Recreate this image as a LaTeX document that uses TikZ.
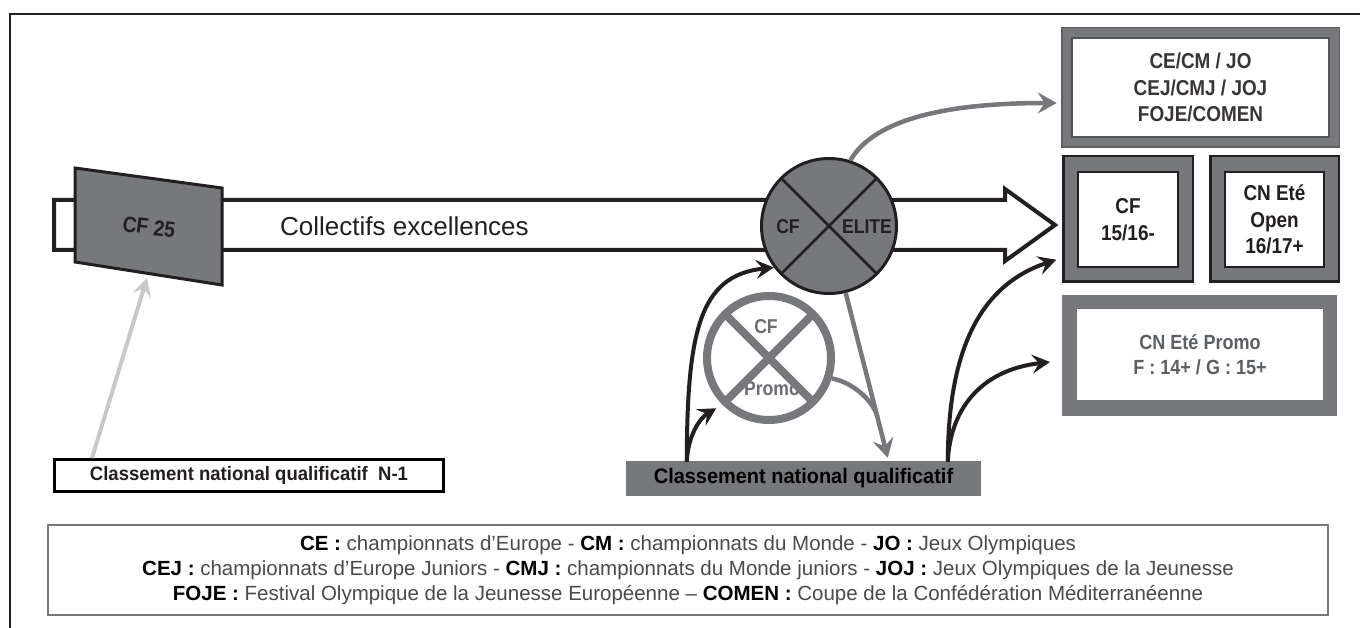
\documentclass[tikz,border=0pt]{standalone}
\usepackage{fontspec}
\setmainfont{Liberation Sans}
\newfontfamily\condf[FakeStretch=0.88]{Liberation Sans}
\newfontfamily\semif[FakeStretch=0.95]{Liberation Sans}
\usetikzlibrary{arrows.meta,calc}
\definecolor{mgray}{HTML}{76787B}
\definecolor{dk}{HTML}{231F20}
\definecolor{lgray}{HTML}{C8C8C8}
\definecolor{txtgray}{HTML}{4A4A4A}
\definecolor{promotxt}{HTML}{5C5F63}
\newcommand\legab[1]{{\color{black}\bfseries #1}}
\begin{document}
\begin{tikzpicture}[x=1pt,y=-1pt,
  outerbox/.style={fill=mgray, inner sep=0pt, outer sep=0pt},
  innerbox/.style={fill=white, inner sep=0pt, outer sep=0pt, align=center, text=dk,
    font=\condf\bfseries\fontsize{21.5}{26.5}\selectfont},
  circlabel/.style={inner sep=0pt, text=dk, font=\condf\bfseries\fontsize{20}{22}\selectfont},
  blackarrow/.style={draw=dk, line width=4pt, -{Stealth[length=18pt,width=19pt,inset=7pt]}},
  grayarrow/.style={draw=mgray, line width=4.5pt, -{Stealth[length=19pt,width=21pt,inset=7pt]}},
  grayline/.style={draw=mgray, line width=4.5pt},
  lightarrow/.style={draw=lgray, line width=4pt, -{Stealth[length=18pt,width=19pt,inset=7pt]}}
]
\useasboundingbox (0,0) rectangle (1360,628);
\fill[white] (0,0) rectangle (1360,628);

% frame
\draw[dk, line width=2.5pt] (10,628) -- (10,14) -- (1360,14);

% main arrow
\draw[dk, line width=4pt, fill=white, line join=miter]
  (54,200) -- (1005,200) -- (1005,189) -- (1055,225) -- (1005,261) -- (1005,250) -- (54,250) -- cycle;
\node[anchor=west, inner sep=0pt, text=dk, font=\fontsize{26}{30}\selectfont] (collectifs) at (280,226) {Collectifs excellences};

% CF 25 trapezoid
\draw[dk, line width=3pt, fill=mgray, line join=miter] (75,168) -- (222,188) -- (222,285) -- (75,262) -- cycle;
\node[rotate=-7.5, inner sep=0pt, text=dk, font=\condf\bfseries\fontsize{22}{24}\selectfont] (cf25) at (149,227) {CF 25};
\coordinate (cfbot) at (147,278);

% right boxes
\node[outerbox, draw=mgray!80!black, line width=1.5pt, minimum width=277.5pt, minimum height=119.5pt] (ceo) at (1200.5,87.5) {};
\node[innerbox, draw=mgray!70!black, line width=1.5pt, minimum width=257pt, minimum height=99pt, text=dk!90] (cei) at (1200.5,87.5) {CE/CM / JO\\CEJ/CMJ / JOJ\\FOJE/COMEN};

\node[outerbox, draw=dk, line width=2.5pt, minimum width=129.5pt, minimum height=125.5pt] (cfo) at (1128,219) {};
\node[innerbox, draw=dk, line width=2.5pt, minimum width=100pt, minimum height=95pt] (cfi) at (1128,219.5) {CF\\15/16-};

\node[outerbox, draw=dk, line width=2.5pt, minimum width=128.5pt, minimum height=125.5pt] (opo) at (1274.5,219) {};
\node[innerbox, draw=dk, line width=2.5pt, minimum width=99pt, minimum height=95pt] (opi) at (1274.5,219.5) {CN Eté\\Open\\16/17+};

\node[outerbox, minimum width=275pt, minimum height=121pt] (promoo) at (1199.5,355.5) {};
\node[innerbox, minimum width=246pt, minimum height=91pt, text=promotxt,
  font=\condf\bfseries\fontsize{20.5}{25}\selectfont] (promoi) at (1200,354.5) {CN Eté Promo\\F : 14+ / G : 15+};

% CF ELITE circle
\node[circle, draw=dk, fill=mgray, line width=3pt, minimum size=135pt, inner sep=0pt] (elite) at (829,226) {};
\draw[dk, line width=2.5pt, shorten <=1.5pt, shorten >=1.5pt] (elite.45) -- (elite.225);
\draw[dk, line width=2.5pt, shorten <=1.5pt, shorten >=1.5pt] (elite.135) -- (elite.315);
\node[circlabel] (elitecf) at (788,227) {CF};
\node[circlabel] (eliteel) at (867,227) {ELITE};

% CF Promo circle
\node[circlabel, text=mgray!90!black] (promocf) at (766,327) {CF};
\node[circlabel, text=mgray!90!black] (promopr) at (772,389) {Promo};
\node[circle, draw=mgray, line width=8pt, minimum size=124pt, inner sep=0pt] (promo) at (769,358) {};
\draw[mgray, line width=8pt, shorten <=4pt, shorten >=4pt] (promo.45) -- (promo.225);
\draw[mgray, line width=8pt, shorten <=4pt, shorten >=4pt] (promo.135) -- (promo.315);

% bottom boxes
\node[fill=mgray, minimum width=355pt, minimum height=35pt, inner sep=0pt, text=black,
  font=\semif\bfseries\fontsize{21}{24}\selectfont] (cnq) at (803.5,478.5) {Classement national qualificatif};
\node[draw=black, line width=3pt, fill=white, minimum width=389pt, minimum height=32pt, inner sep=0pt, text=dk,
  font=\semif\bfseries\fontsize{19.5}{22}\selectfont] (cnqa) at (249,475.5) {Classement national qualificatif\ \ N-1};

% legend
\node[draw=mgray, line width=1.3pt, minimum width=1280pt, minimum height=90pt, inner sep=0pt, align=center,
  text=txtgray, font=\fontsize{20.5}{25}\selectfont] (legend) at (688,570)
  {\legab{CE :} championnats d’Europe - \legab{CM :} championnats du Monde - \legab{JO :} Jeux Olympiques\\
   \legab{CEJ :} championnats d’Europe Juniors - \legab{CMJ :} championnats du Monde juniors - \legab{JOJ :} Jeux Olympiques de la Jeunesse\\
   \legab{FOJE :} Festival Olympique de la Jeunesse Européenne – \legab{COMEN :} Coupe de la Confédération Méditerranéenne};

% connector coordinates
\coordinate (ceTip) at ($(ceo.west)+(-5,15.5)$);
\coordinate (cfTip) at ($(cfo.south west)+(-7,-22)$);
\coordinate (prTip) at ($(promoo.west)+(-12,6.5)$);
\coordinate (cnqL) at ($(cnq.north west)+(61,1)$);
\coordinate (cnqR) at ($(cnq.north west)+(322,1)$);
\coordinate (cnqTip) at ($(cnq.north west)+(262,-3)$);
\coordinate (merge) at ($(elite.284)!0.75!(cnqTip)$);

% connectors
\draw[grayarrow] (elite.72) .. controls (875,118) and (950,103) .. (ceTip);
\draw[blackarrow] (cnqL) .. controls (687,330) and (700,275) .. (elite.217);
\draw[blackarrow, shorten >=7pt] (cnqL) .. controls (688,435) and (700,418) .. (promo.225);
\draw[blackarrow] (cnqR) .. controls (948,350) and (980,285) .. (cfTip);
\draw[blackarrow] (cnqR) .. controls (950,410) and (980,370) .. (prTip);
\draw[grayarrow] (elite.284) -- (cnqTip);
\draw[grayline] (promo.342) .. controls (855,383) and (873.7,402.3) .. (merge);
\draw[lightarrow] ($(cnqa.north west)+(39,0)$) -- (cfbot);
\end{tikzpicture}
\end{document}
